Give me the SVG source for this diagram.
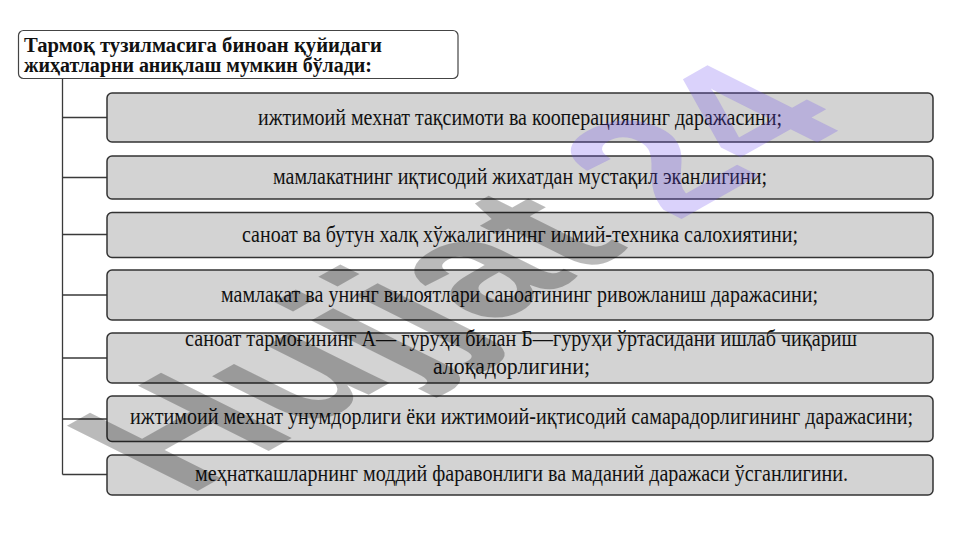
<svg xmlns="http://www.w3.org/2000/svg" width="961" height="540" viewBox="0 0 961 540">
<style>
.box{fill:#d3d3d3;stroke:#333;stroke-width:1.5}
.hdr{fill:#fff;stroke:#444;stroke-width:1.2}
.t{font-family:"Liberation Serif","Times New Roman",serif;font-size:23px;fill:#111}
.h{font-family:"Liberation Serif","Times New Roman",serif;font-size:20px;font-weight:bold;fill:#111}
.c{fill:none;stroke:#3a3a3a;stroke-width:1.3}
.wm{font-family:"Liberation Sans",Arial,sans-serif;font-weight:bold;font-size:100px}
</style>
<rect width="961" height="540" fill="#fff"/>
<g id="connectors">
<path class="c" d="M62.5,78 V474.5" stroke-width="1.8"/>
<path class="c" d="M62.5,117.5 H107 M62.5,177.5 H107 M62.5,234.5 H107 M62.5,295 H107 M62.5,358 H107 M62.5,419 H107 M62.5,474.5 H107"/>
</g>
<g id="header">
<rect class="hdr" x="18.5" y="30.5" width="439.5" height="48" rx="5"/>
<text class="h" x="24" y="52" textLength="358" lengthAdjust="spacingAndGlyphs">Тармоқ тузилмасига биноан қуйидаги</text>
<text class="h" x="24" y="72" textLength="348" lengthAdjust="spacingAndGlyphs">жиҳатларни аниқлаш мумкин бўлади:</text>
</g>
<g id="n1">
<rect class="box" x="107" y="93" width="826" height="49" rx="5"/>
<text class="t" x="258" y="125" textLength="524" lengthAdjust="spacingAndGlyphs">ижтимоий мехнат тақсимоти ва кооперациянинг даражасини;</text>
</g>
<g id="n2">
<rect class="box" x="107" y="156" width="826" height="43" rx="5"/>
<text class="t" x="273" y="183.5" textLength="494" lengthAdjust="spacingAndGlyphs">мамлакатнинг иқтисодий жихатдан мустақил эканлигини;</text>
</g>
<g id="n3">
<rect class="box" x="107" y="212.5" width="826" height="45" rx="5"/>
<text class="t" x="242" y="242" textLength="556" lengthAdjust="spacingAndGlyphs">саноат ва бутун халқ хўжалигининг илмий-техника салохиятини;</text>
</g>
<g id="n4">
<rect class="box" x="107" y="270" width="826" height="50" rx="5"/>
<text class="t" x="221" y="302" textLength="597" lengthAdjust="spacingAndGlyphs">мамлакат ва унинг вилоятлари саноатининг ривожланиш даражасини;</text>
</g>
<g id="n5">
<rect class="box" x="107" y="333" width="826" height="50" rx="5"/>
<text class="t" x="185" y="346" textLength="672" lengthAdjust="spacingAndGlyphs">саноат тармоғининг А— гуруҳи билан Б—гуруҳи ўртасидани ишлаб чиқариш</text>
<text class="t" x="433" y="373.5" textLength="157" lengthAdjust="spacingAndGlyphs">алоқадорлигини;</text>
</g>
<g id="n6">
<rect class="box" x="107" y="396" width="826" height="45.5" rx="5"/>
<text class="t" x="130" y="423.5" textLength="783" lengthAdjust="spacingAndGlyphs">ижтимоий мехнат унумдорлиги ёки ижтимоий-иқтисодий самарадорлигининг даражасини;</text>
</g>
<g id="n7">
<rect class="box" x="107" y="455" width="826" height="40" rx="5"/>
<text class="t" x="195" y="481" textLength="653" lengthAdjust="spacingAndGlyphs">меҳнаткашларнинг моддий фаравонлиги ва маданий даражаси ўсганлигини.</text>
</g>
<g id="watermark">
<text class="wm" transform="matrix(1.6 -0.9 1.9 0.95 187 497)"><tspan fill="#000" fill-opacity="0.27">Hujjat </tspan><tspan fill="#6a4cf0" fill-opacity="0.25">24</tspan></text>
</g>
</svg>
